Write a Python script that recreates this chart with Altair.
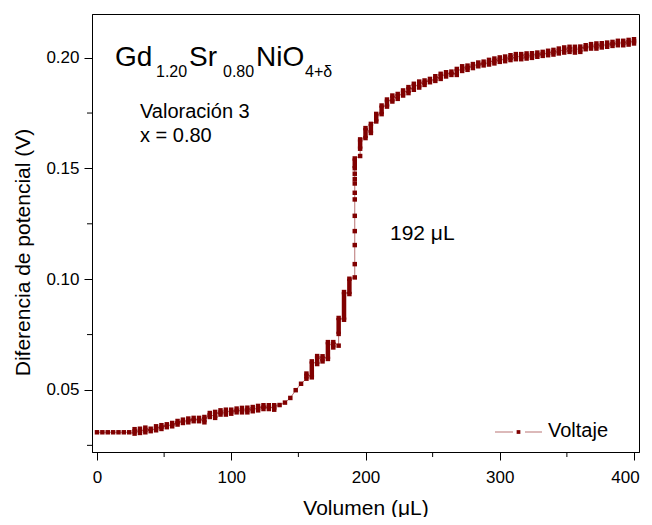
import altair as alt
import pandas as pd

# ---- data (volume in µL, voltage in V) ----
volume = [0, 4, 8, 12, 16, 20, 24, 28, 32, 36, 40, 44, 48, 52, 56, 60, 64, 68, 72, 76,
          80, 84, 88, 92, 96, 100, 104, 108, 112, 116, 120, 124, 128, 132, 136, 140, 144,
          148, 152, 156, 160, 164, 168, 172, 176, 180, 180, 184, 188,
          192, 192, 192, 192, 192, 192, 192, 192, 192, 192, 192,
          196, 196, 200, 204, 208, 212, 216, 220, 224, 228, 232, 236, 240, 244, 248,
          252, 256, 260, 264, 268, 272, 276, 280, 284, 288, 292, 296, 300, 304, 308,
          312, 316, 320, 324, 328, 332, 336, 340, 344, 348, 352, 356, 360, 364, 368,
          372, 376, 380, 384, 388, 392, 396, 400]
v_low = [0.0309, 0.0309, 0.0309, 0.0309, 0.0309, 0.0309, 0.0309, 0.0303, 0.0306, 0.0309,
         0.0314, 0.0318, 0.0324, 0.0332, 0.0336, 0.0344, 0.0351, 0.0354, 0.0359, 0.0359,
         0.0354, 0.0378, 0.0374, 0.0389, 0.0389, 0.0393, 0.0399, 0.0399, 0.0399, 0.0404,
         0.0408, 0.0414, 0.0414, 0.0411, 0.0432, 0.0443, 0.0464,
         0.0499, 0.0528, 0.0551, 0.0557, 0.0617, 0.0629, 0.0640, 0.0692, 0.0700, 0.0753,
         0.0817, 0.0933,
         0.1008, 0.1068, 0.1154, 0.1217, 0.1286, 0.1360, 0.1390, 0.1432, 0.1452, 0.1476, 0.1501,
         0.1556, 0.1589, 0.1637, 0.1660, 0.1712, 0.1745, 0.1779, 0.1802, 0.1814, 0.1829,
         0.1840, 0.1855, 0.1865, 0.1877, 0.1889,
         0.1895, 0.1904, 0.1915, 0.1922, 0.1922, 0.1940, 0.1945, 0.1953, 0.1961, 0.1965,
         0.1969, 0.1974, 0.1981, 0.1984, 0.1989,
         0.1993, 0.1993, 0.1996, 0.1999, 0.2004, 0.2008, 0.2011, 0.2014, 0.2019, 0.2023,
         0.2026, 0.2023, 0.2026, 0.2038, 0.2041,
         0.2041, 0.2046, 0.2049, 0.2053, 0.2056, 0.2056, 0.2059, 0.2064]
v_high = [0.0309, 0.0309, 0.0309, 0.0309, 0.0309, 0.0309, 0.0309, 0.0323, 0.0325, 0.0330,
          0.0325, 0.0336, 0.0341, 0.0345, 0.0351, 0.0360, 0.0366, 0.0371, 0.0374, 0.0374,
          0.0378, 0.0396, 0.0401, 0.0408, 0.0411, 0.0411, 0.0416, 0.0419, 0.0420, 0.0423,
          0.0428, 0.0431, 0.0431, 0.0431, 0.0432, 0.0443, 0.0464,
          0.0499, 0.0528, 0.0574, 0.0629, 0.0653, 0.0652, 0.0716, 0.0716, 0.0700, 0.0825,
          0.0942, 0.1002,
          0.1008, 0.1068, 0.1154, 0.1217, 0.1286, 0.1360, 0.1390, 0.1432, 0.1452, 0.1476, 0.1545,
          0.1556, 0.1631, 0.1682, 0.1701, 0.1746, 0.1784, 0.1811, 0.1829, 0.1836, 0.1852,
          0.1867, 0.1882, 0.1892, 0.1897, 0.1904,
          0.1916, 0.1927, 0.1934, 0.1937, 0.1949, 0.1961, 0.1964, 0.1971, 0.1978, 0.1982,
          0.1990, 0.1996, 0.2001, 0.2005, 0.2011,
          0.2016, 0.2016, 0.2019, 0.2020, 0.2023, 0.2026, 0.2031, 0.2035, 0.2041, 0.2046,
          0.2049, 0.2049, 0.2050, 0.2056, 0.2061,
          0.2064, 0.2065, 0.2068, 0.2071, 0.2076, 0.2076, 0.2080, 0.2083]

x_major = [0, 100, 200, 300, 400]
x_minor = [50, 150, 250, 350]
y_major = [0.05, 0.10, 0.15, 0.20]
y_minor = [0.025, 0.075, 0.125, 0.175]

COLOR = "#800000"
FONT = "Liberation Sans"

# ---- tables ----
pts = []
seq = 0
for xv, lo, hi in zip(volume, v_low, v_high):
    pts.append({"volume": xv, "v": lo, "seq": seq})
    seq += 1
    if hi != lo:
        pts.append({"volume": xv, "v": hi, "seq": seq})
        seq += 1
points = pd.DataFrame(pts)
bars = pd.DataFrame({"volume": volume, "v": v_low, "v2": v_high})
bars = bars[bars["v"] != bars["v2"]]

x_enc = alt.X("volume:Q", scale=alt.Scale(domain=[0, 400], nice=False, zero=False),
              axis=alt.Axis(values=x_major, format="d", title="Volumen (μL)",
                            labelOffset={"condition": {"test": "datum.value === 400", "value": -9},
                                         "value": 0}))
y_enc = alt.Y("v:Q", scale=alt.Scale(domain=[0.022, 0.2197], nice=False, zero=False),
              axis=alt.Axis(values=y_major, format=".2f", title="Diferencia de potencial (V)",
                            titleX=-59, titleY=238))

line = alt.Chart(points).mark_line(color=COLOR, strokeWidth=1, opacity=0.55).encode(
    x=x_enc, y=y_enc, order="seq:Q")
cols = alt.Chart(bars).mark_bar(color=COLOR, size=4.5).encode(
    x=x_enc, y=y_enc, y2="v2:Q")
squares = alt.Chart(points).mark_square(color=COLOR, size=20, opacity=1).encode(
    x=x_enc, y=y_enc)

xminor = alt.Chart(pd.DataFrame({"volume": x_minor})).mark_rule(color="black").encode(
    x=x_enc, y=alt.value(438), y2=alt.value(443))
yminor = alt.Chart(pd.DataFrame({"v": y_minor})).mark_rule(color="black").encode(
    y=y_enc, x=alt.value(-5), x2=alt.value(0))

one = pd.DataFrame({"k": [0]})

def txt(s, x, y, size):
    return alt.Chart(one).mark_text(font=FONT, fontSize=size, align="left",
                                    baseline="alphabetic", color="black").encode(
        x=alt.value(x), y=alt.value(y), text=alt.value(s))

labels = [
    txt("Gd", 23, 52, 28), txt("1.20", 64, 63, 16),
    txt("Sr", 97, 52, 28), txt("0.80", 131, 63, 16),
    txt("NiO", 164, 52, 28), txt("4+δ", 213, 63, 16),
    txt("Valoración 3", 48, 104, 20), txt("x = 0.80", 48, 128, 20),
    txt("192 μL", 298, 226, 21),
    txt("Voltaje", 456, 423, 20),
]

leg1 = alt.Chart(one).mark_rule(color=COLOR, strokeWidth=1, opacity=0.55).encode(
    x=alt.value(403), x2=alt.value(421), y=alt.value(418))
leg2 = alt.Chart(one).mark_rule(color=COLOR, strokeWidth=1, opacity=0.55).encode(
    x=alt.value(433), x2=alt.value(450), y=alt.value(418))
leg3 = alt.Chart(one).mark_square(color=COLOR, size=14, opacity=1).encode(
    x=alt.value(426.5), y=alt.value(418))

chart = alt.layer(line, cols, squares, xminor, yminor, leg1, leg2, leg3, *labels).properties(
    width=547, height=438,
    autosize=alt.AutoSizeParams(type="none"),
    padding={"left": 84, "top": 6, "right": 5, "bottom": 65},
).configure_view(stroke="black", strokeWidth=1).configure_axis(
    grid=False, domainColor="black", tickColor="black", tickSize=8,
    labelFont=FONT, labelFontSize=17, labelColor="black",
    titleFont=FONT, titleFontSize=21, titleFontWeight="normal", titleColor="black",
).configure_axisX(labelPadding=9, titlePadding=12).configure_axisY(
    labelPadding=5, titlePadding=12)

chart.save("out.html", embed_options={"renderer": "svg", "actions": False})
